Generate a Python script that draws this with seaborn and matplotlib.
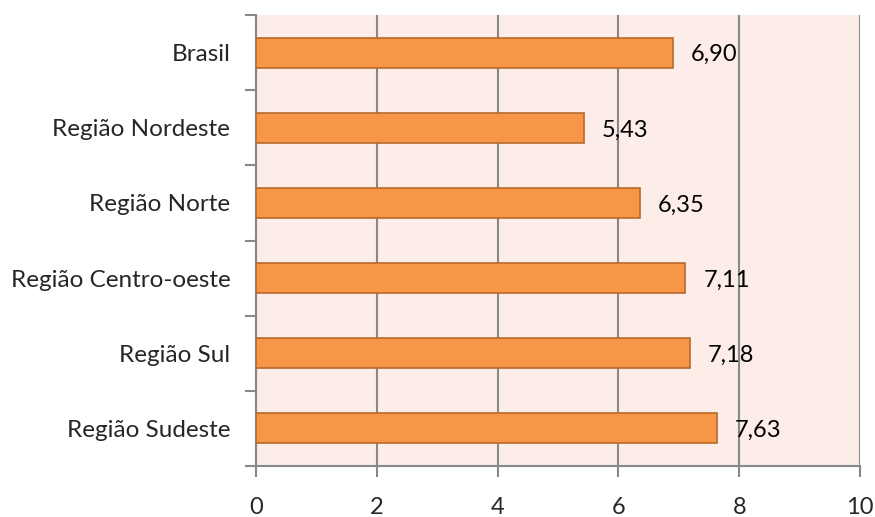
import matplotlib
matplotlib.use("Agg")
import matplotlib.pyplot as plt
import seaborn as sns
import pandas as pd

categorias = ["Brasil", "Região Nordeste", "Região Norte", "Região Centro-oeste", "Região Sul", "Região Sudeste"]
valores = [6.90, 5.43, 6.35, 7.11, 7.18, 7.63]
xticks = [0, 2, 4, 6, 8, 10]

sns.set_style("white")
plt.rcParams["font.family"] = ["Lato", "DejaVu Sans"]

df = pd.DataFrame({"categoria": categorias, "valor": valores})

fig = plt.figure(figsize=(8.75, 5.17), dpi=100)
ax = fig.add_axes([256 / 875, 51 / 517, 604 / 875, 451 / 517])
ax.set_facecolor("#FCEDE9")

sns.barplot(data=df, x="valor", y="categoria", orient="h", color="#F79646",
            width=0.4, edgecolor="#B8692C", linewidth=1.2, saturation=1, ax=ax, zorder=3)

ax.set_xlim(0, 10)
ax.set_ylim(len(categorias) - 0.5, -0.5)
ax.set_xticks(xticks)
ax.set_xticklabels([str(t) for t in xticks], fontsize=17)
ax.set_xlabel("")
ax.set_ylabel("")

ax.xaxis.grid(True, color="#888888", linewidth=1.5, zorder=1)
ax.set_axisbelow(True)

# category names centred on bars, tick marks on the category boundaries
ax.set_yticks(range(len(categorias)))
ax.set_yticklabels(categorias, fontsize=17.5)
ax.tick_params(axis="y", length=0, pad=18.5)
ax.set_yticks([i - 0.5 for i in range(len(categorias) + 1)], minor=True)
ax.tick_params(axis="y", which="minor", length=8, width=1.5, color="#888888", left=True)
ax.tick_params(axis="x", length=8, width=1.5, color="#888888", bottom=True, pad=14)

for s in ["top", "right"]:
    ax.spines[s].set_visible(False)
for s in ["left", "bottom"]:
    ax.spines[s].set_color("#888888")
    ax.spines[s].set_linewidth(1.5)

for i, v in enumerate(valores):
    ax.text(v + 0.3, i + 0.03, f"{v:.2f}".replace(".", ","), va="center", ha="left",
            fontsize=17, color="black", zorder=4)

fig.savefig("out.png", dpi=100)
